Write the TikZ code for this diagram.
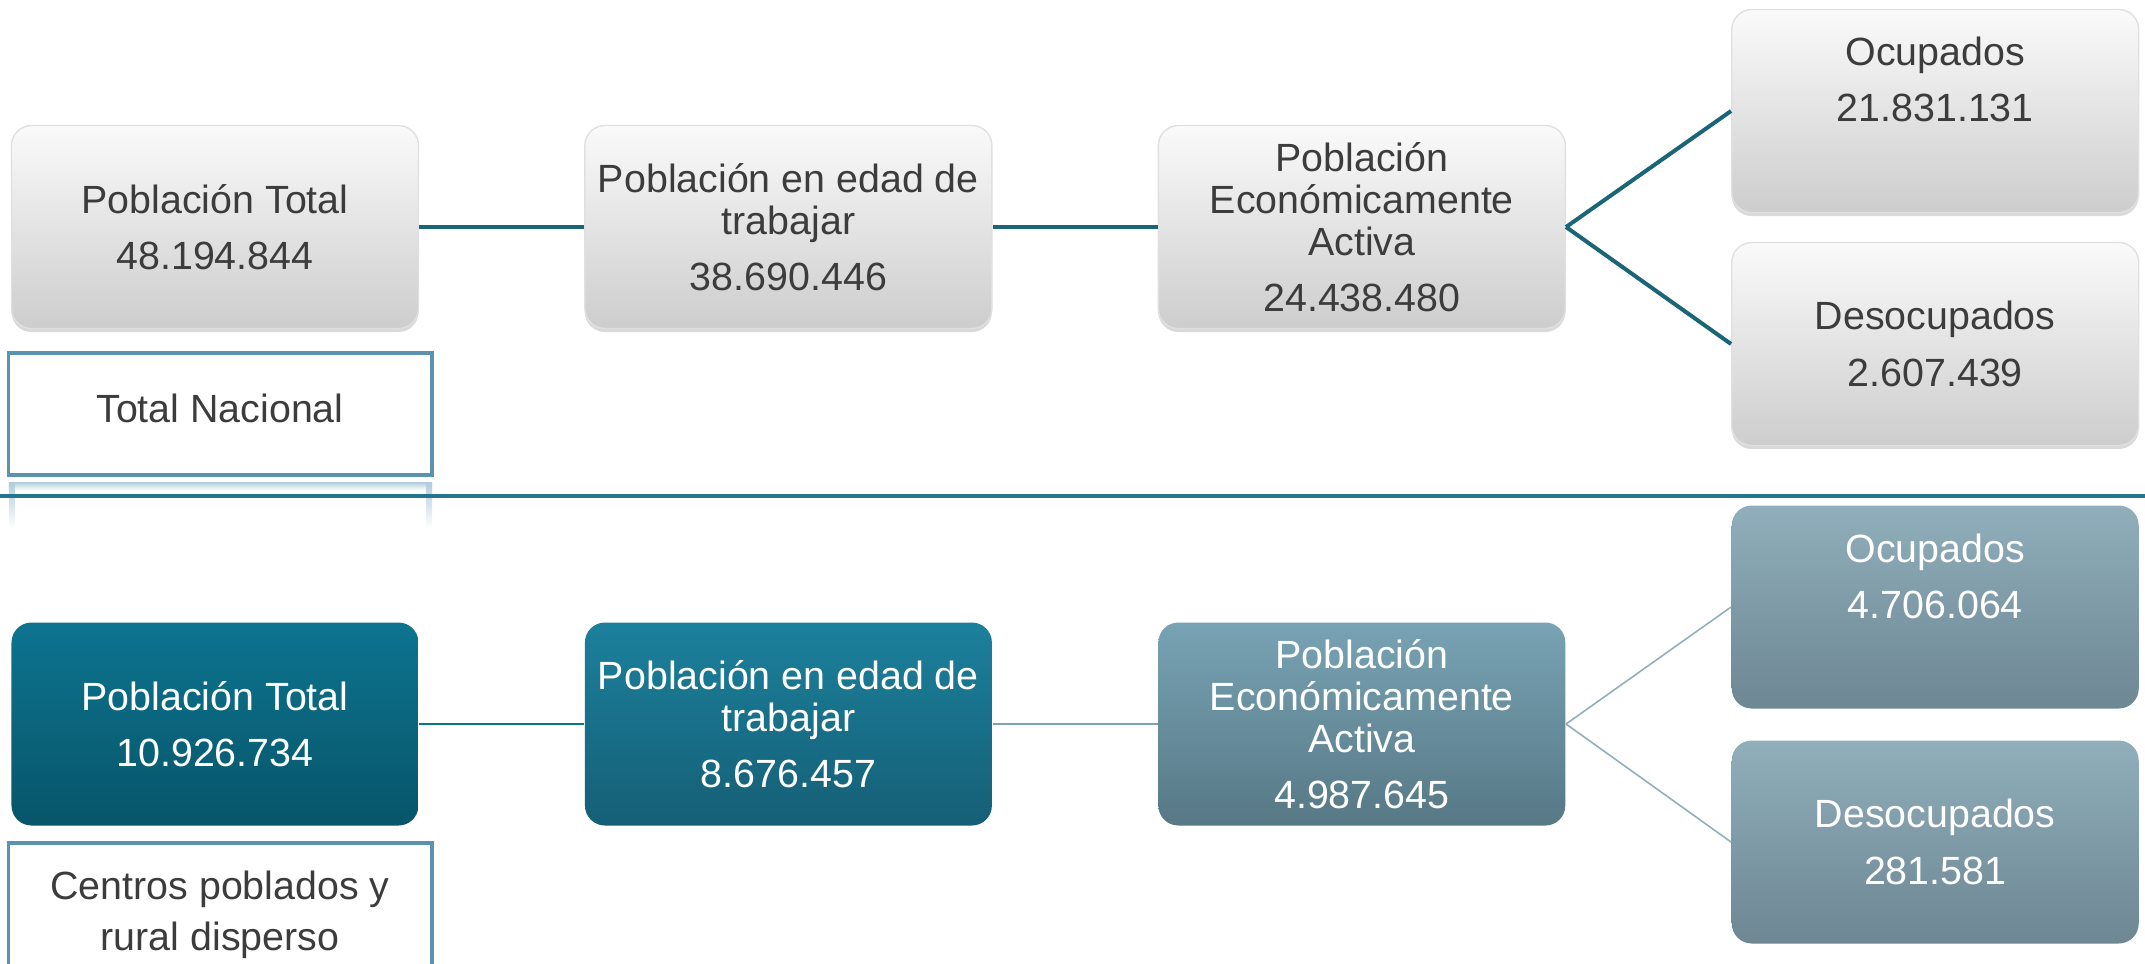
\documentclass[tikz,border=0pt]{standalone}
\usepackage{fontspec}
\setmainfont{Liberation Sans}
\usetikzlibrary{positioning,shadows}

\definecolor{txtgray}{HTML}{3C3C3C}
\definecolor{graytop}{HTML}{FAFAFA}
\definecolor{graybot}{HTML}{CDCDCD}
\definecolor{tealtop}{HTML}{0D7490}
\definecolor{tealbot}{HTML}{075569}
\definecolor{midtop}{HTML}{1C809C}
\definecolor{midbot}{HTML}{155F76}
\definecolor{slatetop}{HTML}{78A3B4}
\definecolor{slatebot}{HTML}{577885}
\definecolor{paletop}{HTML}{90AEBB}
\definecolor{palebot}{HTML}{6D8793}
\definecolor{linkdark}{HTML}{1B6578}
\definecolor{sepblue}{HTML}{22768E}
\definecolor{tagblue}{HTML}{5B92B0}
\definecolor{reflblue}{HTML}{B0CCDA}
\definecolor{linkgray}{HTML}{80A2AE}

\tikzset{
  box/.style={rounded corners=0.2cm, minimum width=4.07cm, minimum height=2.03cm,
    align=center, inner sep=0pt, font=\fontsize{11.2}{12}\selectfont},
  graybox/.style={box, top color=graytop, bottom color=graybot, draw=black!12,
    text=txtgray, drop shadow={opacity=0.3, shadow xshift=0pt, shadow yshift=-0.035cm}},
  tealbox/.style={box, top color=tealtop, bottom color=tealbot, text=white},
  midbox/.style={box, top color=midtop, bottom color=midbot, text=white},
  slatebox/.style={box, top color=slatetop, bottom color=slatebot, text=white},
  palebox/.style={box, top color=paletop, bottom color=palebot, text=white},
  boxtext/.style={align=center, inner sep=0pt, font=\fontsize{11.2}{12}\selectfont},
  tagbox/.style={draw=tagblue, line width=0.04cm, minimum width=4.23cm, minimum height=1.22cm,
    align=center, inner sep=0pt, text=txtgray, font=\fontsize{11.2}{12}\selectfont},
  linktop/.style={draw=linkdark, line width=0.04cm},
  linkthin/.style={line width=0.45pt},
}

\begin{document}
\begin{tikzpicture}
  \useasboundingbox (0,0) rectangle (21.45,-9.63);
  % Total nacional
  \node[graybox] (pt1) at (2.15,-2.27) {Población Total\\[4pt]48.194.844};
  \node[graybox, right=1.65cm of pt1] (pet1) {Población en edad de\\trabajar\\[4pt]38.690.446};
  \node[graybox, right=1.65cm of pet1] (pea1) {Población\\Económicamente\\Activa\\[4pt]24.438.480};
  \node[graybox, right=1.65cm of pea1, yshift=1.16cm] (ocu1) {};
  \node[boxtext, text=txtgray, below=0.27cm of ocu1.north] (ocu1txt) {Ocupados\\[4pt]21.831.131};
  \node[graybox, right=1.65cm of pea1, yshift=-1.17cm] (des1) {Desocupados\\[4pt]2.607.439};
  \node[tagbox, below=0.22cm of pt1, xshift=0.05cm, text depth=0.12cm] (tag1) {Total Nacional};
  % Connect nodes
  \draw[linktop] (pt1) -- (pet1);
  \draw[linktop] (pet1) -- (pea1);
  \draw[linktop] (pea1.east) -- (ocu1.west);
  \draw[linktop] (pea1.east) -- (des1.west);
  % Reflection and separator
  \shade[top color=reflblue, bottom color=white] (0.09,-4.82) rectangle (4.32,-4.90);
  \shade[top color=reflblue, bottom color=white] (0.09,-4.82) rectangle (0.15,-5.28);
  \shade[top color=reflblue, bottom color=white] (4.26,-4.82) rectangle (4.32,-5.28);
  \draw[draw=sepblue, line width=0.04cm] (0,-4.96) -- (21.45,-4.96);
  % Centros poblados y rural disperso
  \node[tealbox] (pt2) at (2.15,-7.24) {Población Total\\[4pt]10.926.734};
  \node[midbox, right=1.65cm of pt2] (pet2) {Población en edad de\\trabajar\\[4pt]8.676.457};
  \node[slatebox, right=1.65cm of pet2] (pea2) {Población\\Económicamente\\Activa\\[4pt]4.987.645};
  \node[palebox, right=1.65cm of pea2, yshift=1.17cm] (ocu2) {};
  \node[boxtext, text=white, below=0.28cm of ocu2.north] (ocu2txt) {Ocupados\\[4pt]4.706.064};
  \node[palebox, right=1.65cm of pea2, yshift=-1.18cm] (des2) {Desocupados\\[4pt]281.581};
  \node[tagbox, below=0.15cm of pt2, xshift=0.05cm, minimum height=1.3cm] (tag2)
    {\rule{0pt}{0.42cm}Centros poblados y\\[2.5pt]rural disperso};
  % Connect nodes
  \draw[linkthin, draw=tealtop] (pt2) -- (pet2);
  \draw[linkthin, draw=linkgray] (pet2) -- (pea2);
  \draw[linkthin, draw=paletop] (pea2.east) -- (ocu2.west);
  \draw[linkthin, draw=paletop] (pea2.east) -- (des2.west);
\end{tikzpicture}
\end{document}
